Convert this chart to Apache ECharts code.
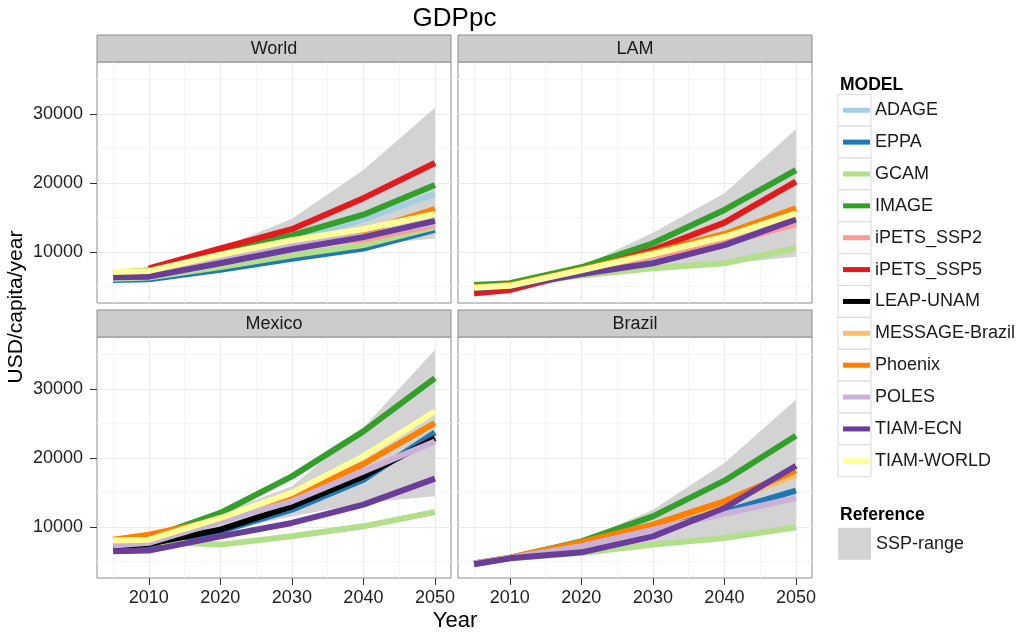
<!DOCTYPE html>
<html><head><meta charset="utf-8">
<script src="https://cdn.jsdelivr.net/npm/echarts@6/dist/echarts.min.js"></script>
<style>html,body{margin:0;padding:0;background:#fff}#c{width:1016px;height:635px}</style>
</head><body><div id="c"></div>
<script>
// ---------- data ----------
const years = [2005, 2010, 2020, 2030, 2040, 2050];
const sspYears = [2010, 2020, 2030, 2040, 2050];
const regions = ['World', 'LAM', 'Mexico', 'Brazil'];
const models = ['ADAGE','EPPA','GCAM','IMAGE','iPETS_SSP2','iPETS_SSP5','LEAP-UNAM','MESSAGE-Brazil','Phoenix','POLES','TIAM-ECN','TIAM-WORLD'];
const modelColors = ['#a6cee3','#1f78b4','#b2df8a','#33a02c','#fb9a99','#e31a1c','#000000','#fdbf6f','#ff7f00','#cab2d6','#6a3d9a','#ffff99'];
const xTicks = [2010, 2020, 2030, 2040, 2050];
const yTicks = [10000, 20000, 30000];
const xMinor = [2005, 2015, 2025, 2035, 2045];
const yMinor = [5000, 15000, 25000, 35000];

const worldValues = {
  'ADAGE':      [6900, 7200, 9400, 11900, 14700, 18400],
  'EPPA':       [5950, 6050, 7400, 9000, 10500, 13200],
  'GCAM':       [6100, 6300, 7800, 9500, 11000, 13600],
  'IMAGE':      [7000, 7300, 10050, 12400, 15400, 19700],
  'iPETS_SSP2': [null, 7500, 9100, 11000, 11800, 13900],
  'iPETS_SSP5': [null, 7600, 10500, 13300, 17800, 22900],
  'Phoenix':    [6700, 7000, 8600, 10800, 12900, 16200],
  'POLES':      [6600, 7000, 9100, 11100, 12300, 14200],
  'TIAM-ECN':   [6350, 6420, 8360, 10400, 12150, 14500],
  'TIAM-WORLD': [7100, 7250, 9600, 11700, 13300, 15500]
};
const lamValues = {
  'ADAGE':      [null, 5000, 6900, 8600, 11000, 14400],
  'GCAM':       [5000, 5300, 6600, 7640, 8360, 10530],
  'IMAGE':      [5220, 5460, 7780, 11250, 16090, 21880],
  'iPETS_SSP2': [4010, 4490, 7000, 9400, 11300, 14000],
  'iPETS_SSP5': [4010, 4490, 7150, 10290, 14250, 20190],
  'Phoenix':    [4900, 5200, 7450, 9900, 12600, 16330],
  'TIAM-ECN':   [4700, 5000, 6800, 8360, 11000, 14730],
  'TIAM-WORLD': [4800, 5090, 7350, 9700, 12200, 15600]
};
const mexicoValues = {
  'ADAGE':      [null, 7500, 9700, 12800, 17100, 23200],
  'EPPA':       [7000, 7300, 9370, 12500, 16850, 23710],
  'GCAM':       [7600, 7900, 7440, 8640, 10090, 12170],
  'IMAGE':      [8000, 8400, 12030, 17330, 23860, 31590],
  'LEAP-UNAM':  [7190, 7540, 9610, 12990, 17330, 22890],
  'Phoenix':    [8160, 8880, 11060, 14290, 19130, 25070],
  'POLES':      [7300, 7700, 10820, 13720, 18060, 22400],
  'TIAM-ECN':   [6460, 6570, 8640, 10580, 13230, 17000],
  'TIAM-WORLD': [8020, 8160, 11300, 14930, 20230, 26750]
};
const brazilValues = {
  'ADAGE':          [null, 5500, 7700, 10000, 12900, 18700],
  'EPPA':           [4700, 5500, 7670, 9850, 12200, 15260],
  'GCAM':           [4700, 5450, 6220, 7440, 8410, 9940],
  'IMAGE':          [4700, 5500, 7910, 11540, 16710, 23230],
  'MESSAGE-Brazil': [4700, 5500, 7600, 10100, 13500, 17580],
  'Phoenix':        [4700, 5550, 7800, 10330, 13710, 18200],
  'POLES':          [4700, 5500, 7200, 9610, 11900, 14200],
  'TIAM-ECN':       [4600, 5450, 6320, 8640, 12750, 18880]
};
const worldSspLow  = [6800, 8200, 9600, 11000, 11950];
const worldSspHigh = [7300, 10600, 14800, 21900, 30900];
const lamSspLow    = [5000, 6500, 7400, 8300, 9320];
const lamSspHigh   = [5500, 7900, 12800, 18500, 27800];
const mexicoSspLow  = [7600, 9400, 11500, 13500, 14440];
const mexicoSspHigh = [8500, 12000, 15900, 24400, 35690];
const brazilSspLow  = [5300, 6200, 7300, 8200, 9600];
const brazilSspHigh = [5700, 8000, 12500, 19270, 28450];

const regionValues = [worldValues, lamValues, mexicoValues, brazilValues];
const regionSspLow = [worldSspLow, lamSspLow, mexicoSspLow, brazilSspLow];
const regionSspHigh = [worldSspHigh, lamSspHigh, mexicoSspHigh, brazilSspHigh];

// ---------- layout ----------
const FONT = "'Liberation Sans', Arial, Helvetica, sans-serif";
const panels = [
  {left: 97, top: 62}, {left: 458, top: 62},
  {left: 97, top: 337}, {left: 458, top: 337}
];
const PW = 354, PH = 241, STRIP = 27;
const XMIN = 2002.75, XMAX = 2052.25, YMIN = 2600, YMAX = 37540;
const RIBBON = '#d3d3d3';
const plain = v => String(v);

const grids = [], xAxes = [], yAxes = [], series = [], graphics = [];

panels.forEach((p, i) => {
  const bottomRow = i >= 2, leftCol = i % 2 === 0;
  grids.push({left: p.left, top: p.top, width: PW, height: PH, show: true,
    backgroundColor: '#ffffff', borderColor: '#8c8c8c', borderWidth: 1, containLabel: false});
  xAxes.push({type: 'value', gridIndex: i, min: XMIN, max: XMAX,
    axisLine: {show: false}, splitLine: {show: false},
    axisTick: {show: bottomRow, customValues: xTicks, length: 7, lineStyle: {color: '#333', width: 1}},
    axisLabel: {show: bottomRow, customValues: xTicks, formatter: plain, fontSize: 18, color: '#222', fontFamily: FONT, margin: 11}});
  yAxes.push({type: 'value', gridIndex: i, min: YMIN, max: YMAX,
    axisLine: {show: false}, splitLine: {show: false},
    axisTick: {show: leftCol, customValues: yTicks, length: 7, lineStyle: {color: '#333', width: 1}},
    axisLabel: {show: leftCol, customValues: yTicks, formatter: plain, fontSize: 18, color: '#222', fontFamily: FONT, margin: 14}});

  // gridlines (through axis scales)
  const gl = [];
  xMinor.forEach(v => gl.push({xAxis: v, lineStyle: {color: '#f6f6f6', width: 1, type: 'solid'}}));
  yMinor.forEach(v => gl.push({yAxis: v, lineStyle: {color: '#f6f6f6', width: 1, type: 'solid'}}));
  xTicks.forEach(v => gl.push({xAxis: v, lineStyle: {color: '#ebebeb', width: 1, type: 'solid'}}));
  yTicks.forEach(v => gl.push({yAxis: v, lineStyle: {color: '#ebebeb', width: 1, type: 'solid'}}));
  series.push({type: 'line', name: 'grid_' + i, xAxisIndex: i, yAxisIndex: i, data: [], silent: true, z: 1,
    markLine: {silent: true, z: 1, symbol: ['none', 'none'], label: {show: false}, animation: false,
      lineStyle: {type: 'solid'}, emphasis: {disabled: true}, data: gl}});

  // SSP ribbon
  const lo = regionSspLow[i], hi = regionSspHigh[i];
  series.push({type: 'custom', name: 'SSP-range', xAxisIndex: i, yAxisIndex: i, z: 2, silent: true,
    itemStyle: {color: RIBBON},
    data: sspYears.map((y, k) => [y, lo[k], hi[k]]),
    encode: {x: 0, y: [1, 2]},
    renderItem: (params, api) => {
      if (params.dataIndex !== 0) return null;
      const pts = [];
      for (let k = 0; k < sspYears.length; k++) pts.push(api.coord([sspYears[k], hi[k]]));
      for (let k = sspYears.length - 1; k >= 0; k--) pts.push(api.coord([sspYears[k], lo[k]]));
      return {type: 'polygon', shape: {points: pts}, style: {fill: RIBBON}};
    }});

  // model lines
  const vals = regionValues[i];
  models.forEach((m, mi) => {
    const v = vals[m];
    if (!v) return;
    const data = years.map((y, k) => [y, v[k]]).filter(d => d[1] != null);
    series.push({type: 'line', name: m, xAxisIndex: i, yAxisIndex: i, z: 3, silent: true,
      data: data, symbol: 'none', showSymbol: false,
      itemStyle: {color: modelColors[mi]},
      lineStyle: {color: modelColors[mi], width: 6, join: 'round', cap: 'butt'}});
  });

  // strip
  const sTop = p.top - STRIP;
  graphics.push({type: 'rect', z: 10, shape: {x: p.left, y: sTop, width: PW, height: STRIP},
    style: {fill: '#cccccc', stroke: '#8c8c8c', lineWidth: 1}});
  graphics.push({type: 'text', z: 11, x: p.left + PW / 2, y: sTop + STRIP / 2 + 1,
    style: {text: regions[i], fontSize: 18, fontFamily: FONT, fill: '#1a1a1a', align: 'center', verticalAlign: 'middle'}});
});

// titles
graphics.push({type: 'text', z: 11, x: 454.5, y: 19,
  style: {text: 'GDPpc', fontSize: 26, fontFamily: FONT, fill: '#000', align: 'center', verticalAlign: 'middle'}});
graphics.push({type: 'text', z: 11, x: 455, y: 621,
  style: {text: 'Year', fontSize: 22, fontFamily: FONT, fill: '#000', align: 'center', verticalAlign: 'middle'}});
graphics.push({type: 'text', z: 11, x: 16, y: 307, rotation: Math.PI / 2,
  style: {text: 'USD/capita/year', fontSize: 21, fontFamily: FONT, fill: '#000', align: 'center', verticalAlign: 'middle'}});

// legend decorations
const KEY_TOP = 94.3, KEY_H = 31.87;
graphics.push({type: 'text', z: 11, x: 840, y: 85,
  style: {text: 'MODEL', fontSize: 17.5, fontWeight: 'bold', fontFamily: FONT, fill: '#000', align: 'left', verticalAlign: 'middle'}});
models.forEach((m, k) => {
  graphics.push({type: 'rect', z: 0, shape: {x: 838, y: KEY_TOP + k * KEY_H, width: 33, height: KEY_H},
    style: {fill: '#ffffff', stroke: '#d9d9d9', lineWidth: 1}});
});
graphics.push({type: 'text', z: 11, x: 840, y: 515,
  style: {text: 'Reference', fontSize: 17.5, fontWeight: 'bold', fontFamily: FONT, fill: '#000', align: 'left', verticalAlign: 'middle'}});

const chart = echarts.init(document.getElementById('c'), null, {renderer: 'canvas'});
chart.setOption({
  animation: false,
  backgroundColor: '#ffffff',
  grid: grids, xAxis: xAxes, yAxis: yAxes, series: series,
  legend: [
    {orient: 'vertical', left: 843, top: KEY_TOP, padding: 0, itemGap: 0, itemWidth: 27, itemHeight: 5,
      selectedMode: false, z: 5,
      data: models.map(m => ({name: m, icon: 'rect'})),
      textStyle: {fontSize: 18, color: '#1a1a1a', fontFamily: FONT, lineHeight: KEY_H}},
    {orient: 'vertical', left: 838, top: 527.7, padding: 0, itemGap: 0, itemWidth: 33, itemHeight: 32,
      selectedMode: false, z: 5,
      data: [{name: 'SSP-range', icon: 'rect', itemStyle: {color: RIBBON}}],
      textStyle: {fontSize: 18, color: '#1a1a1a', fontFamily: FONT}}
  ],
  graphic: graphics
});
</script></body></html>
